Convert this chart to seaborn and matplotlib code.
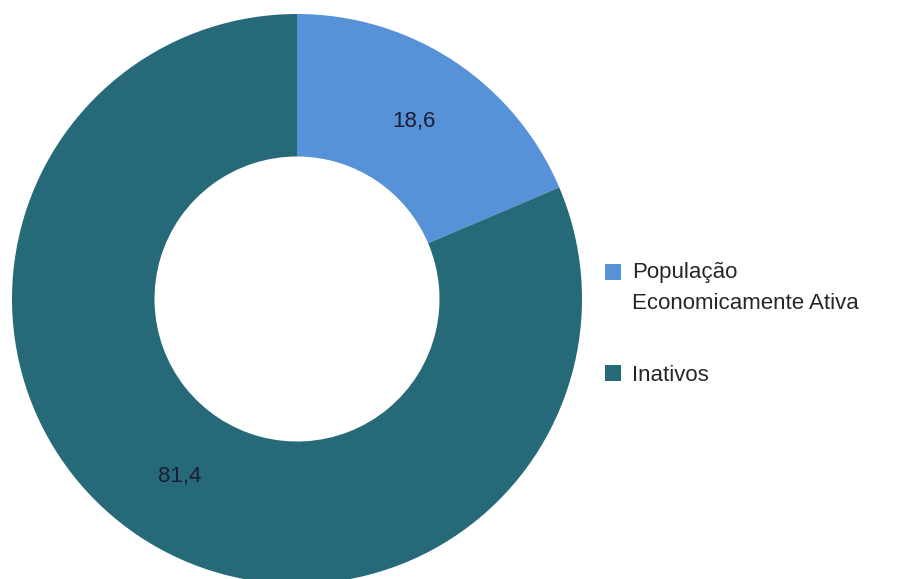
import matplotlib
matplotlib.use("Agg")
import matplotlib.pyplot as plt
import seaborn as sns
import numpy as np

# Data (percent)
categories = ['População\nEconomicamente Ativa', 'Inativos']
values = [18.6, 81.4]
value_labels = ['18,6', '81,4']
colors = ['#5792d8', '#266a7a']

sns.set_theme(style='white')
plt.rcParams['font.family'] = ['Liberation Sans', 'DejaVu Sans']

fig = plt.figure(figsize=(9.04, 5.79), dpi=100)
ax = fig.add_axes([12 / 904, -5 / 579, 570 / 904, 570 / 579])

wedges, texts = ax.pie(values, colors=colors, startangle=90, counterclock=False,
                       wedgeprops=dict(width=0.5, edgecolor='none'), radius=1.0)

# value labels inside the ring
for w, lab in zip(wedges, value_labels):
    mid = np.deg2rad((w.theta1 + w.theta2) / 2)
    r = 0.745
    ax.text(r * np.cos(mid), r * np.sin(mid), lab, ha='center', va='center',
            fontsize=16, color='#1c1c34')

ax.set_xlim(-1, 1)
ax.set_ylim(-1, 1)
ax.set_aspect('equal')
ax.axis('off')

leg = fig.legend(wedges, categories, loc='upper left', bbox_to_anchor=(605 / 904, 1 - 262 / 579),
                 frameon=False, fontsize=16, handlelength=0.72, handleheight=0.72,
                 handletextpad=0.5, labelspacing=2.3, borderpad=0, borderaxespad=0)
for t in leg.get_texts():
    t.set_linespacing(1.6)
# align the first marker with the first text line
h0 = leg.legend_handles[0]
h0.set_y(h0.get_y() + 11.5)

fig.savefig('out.png', dpi=100)
